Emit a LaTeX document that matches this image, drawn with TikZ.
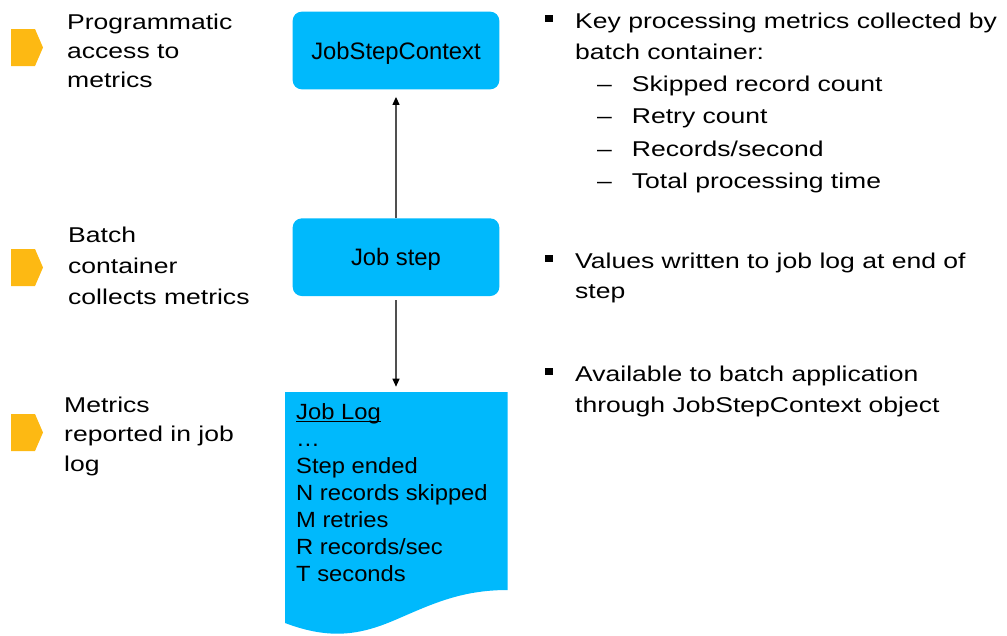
\documentclass[tikz,border=0pt]{standalone}
\usepackage{fontspec}
\setmainfont{Liberation Sans}
\newfontfamily\widefont[FakeStretch=1.24]{Liberation Sans}
\newfontfamily\logfont[FakeStretch=1.08]{Liberation Sans}
\usetikzlibrary{arrows.meta}
\definecolor{boxblue}{RGB}{0,185,252}
\definecolor{marker}{RGB}{253,185,19}
\definecolor{arrowgrey}{RGB}{80,80,80}
\tikzset{
  txt/.style={anchor=base west, inner sep=0pt, font=\widefont\fontsize{21.4}{25}\selectfont},
  logtxt/.style={anchor=base west, inner sep=0pt, font=\logfont\fontsize{22}{26}\selectfont},
  box/.style={fill=boxblue, rounded corners=9pt, minimum width=206.6pt, minimum height=77.6pt,
    inner sep=0pt, text height=17pt, text depth=0pt, font=\fontsize{23.8}{28}\selectfont},
  arr/.style={draw=arrowgrey, line width=1.2pt, -{Triangle[length=8pt,width=7pt,color=black,fill=black]}},
  bulletsq/.style={fill=black, draw=none, minimum width=8pt, minimum height=7pt, inner sep=0pt},
}
\begin{document}
\begin{tikzpicture}[x=1pt,y=-1pt]
\useasboundingbox (0,0) rectangle (1007,635);

% markers
\foreach \t in {29,249,414}{
  \fill[marker] (11,\t) -- (35,\t) -- (43,\t+18.5) -- (35,\t+37) -- (11,\t+37) -- cycle;
}

% left texts
\node[txt] (l1a) at (67,29.3) {Programmatic};
\node[txt] (l1b) at (67,58.3) {access to};
\node[txt] (l1c) at (67,87.3) {metrics};
\node[txt] (l2a) at (68,242.7) {Batch};
\node[txt] (l2b) at (68,273.3) {container};
\node[txt] (l2c) at (68,304) {collects metrics};
\node[txt] (l3a) at (64,412.3) {Metrics};
\node[txt] (l3b) at (64,441.8) {reported in job};
\node[txt] (l3c) at (64,471.3) {log};

% boxes
\node[box] (ctx) at (396,50.5) {JobStepContext};
\node[box] (step) at (396,257.2) {Job step};
\coordinate (log) at (396,392);

% job log document
\fill[boxblue] (285,392) -- (507.5,392) -- (507.5,590)
  .. controls (460,590) and (430,605) .. (395,620)
  .. controls (360,635) and (330,640) .. (285,623) -- cycle;

% arrows
\draw[arr, shorten >=7.4pt] (step) -- (ctx);
\draw[arr, shorten <=4pt, shorten >=5.3pt] (step) -- (log);

% job log text
\node[logtxt] (jl) at (296,419) {Job Log};
\draw[line width=1.1pt] ([yshift=-2.7pt]jl.base west) -- ([yshift=-2.7pt]jl.base east);
\node[logtxt] (jl1) at (296,446.1) {…};
\node[logtxt] (jl2) at (296,473.2) {Step ended};
\node[logtxt] (jl3) at (296,500.3) {N records skipped};
\node[logtxt] (jl4) at (296,527.4) {M retries};
\node[logtxt] (jl5) at (296,554.5) {R records/sec};
\node[logtxt] (jl6) at (296,581.6) {T seconds};

% right texts
\node[bulletsq] (b1) at (549,18.3) {};
\node[txt] (r1a) at (575,28.3) {Key processing metrics collected by};
\node[txt] (r1b) at (575,59.3) {batch container:};
\node[txt] (d1) at (597,91.7) {–};
\node[txt] (s1) at (631.7,91.7) {Skipped record count};
\node[txt] (d2) at (597,123.6) {–};
\node[txt] (s2) at (631.7,123.6) {Retry count};
\node[txt] (d3) at (597,156) {–};
\node[txt] (s3) at (631.7,156) {Records/second};
\node[txt] (d4) at (597,188.3) {–};
\node[txt] (s4) at (631.7,188.3) {Total processing time};
\node[bulletsq] (b2) at (549,258.3) {};
\node[txt] (r2a) at (575,268.3) {Values written to job log at end of};
\node[txt] (r2b) at (575,298.5) {step};
\node[bulletsq] (b3) at (549,371.7) {};
\node[txt] (r3a) at (575,381.7) {Available to batch application};
\node[txt] (r3b) at (575,412) {through JobStepContext object};
\end{tikzpicture}
\end{document}
